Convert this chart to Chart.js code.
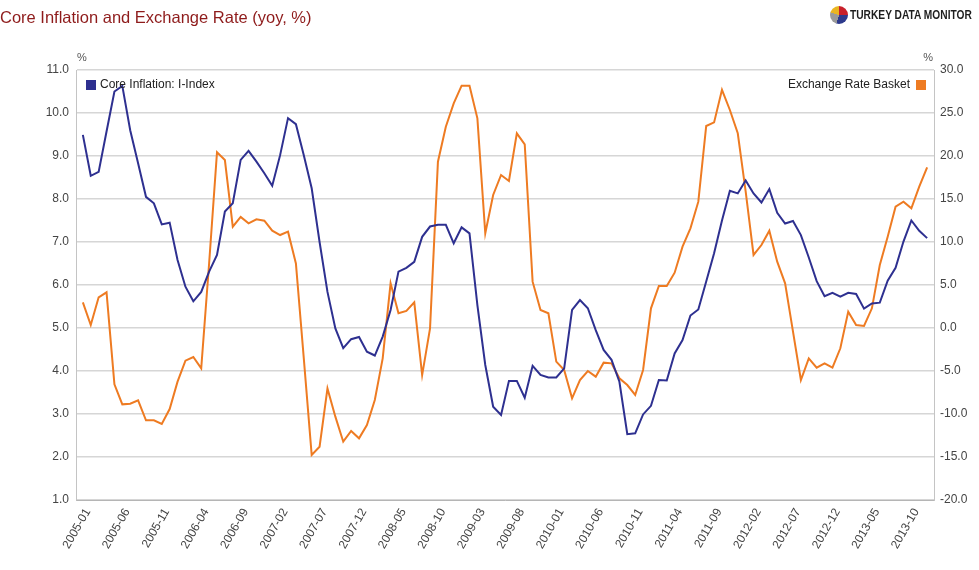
<!DOCTYPE html>
<html>
<head>
<meta charset="utf-8">
<title>Core Inflation and Exchange Rate</title>
<script src="https://cdn.jsdelivr.net/npm/chart.js@4.4.1/dist/chart.umd.min.js"></script>
<style>
  html, body { margin: 0; padding: 0; background: #fff; }
  #wrap { position: relative; width: 979px; height: 570px; overflow: hidden; }
  #chart { position: absolute; left: 0; top: 0; }
  #title { position: absolute; left: 0; top: 8px; font: 16.5px "Liberation Sans", Arial, sans-serif; color: #8e1b1b; white-space: nowrap; }
  #logo { position: absolute; left: 830px; top: 6px; height: 18px; display: flex; align-items: center; white-space: nowrap; }
  #logo .pie { width: 18px; height: 18px; border-radius: 50%; flex: none;
    background: conic-gradient(#c8202a 0 25%, #2d3a8c 25% 55%, #9a9a9a 55% 80%, #e9b521 80% 100%); }
  #logo .txt { margin-left: 2px; font: bold 12px "Liberation Sans", Arial, sans-serif; color: #1e1e1e;
    white-space: nowrap; transform: scaleX(0.85); transform-origin: left center; }
</style>
</head>
<body>
<div id="wrap">
  <canvas id="chart" width="979" height="570"></canvas>
  <div id="title">Core Inflation and Exchange Rate (yoy, %)</div>
  <div id="logo"><div class="pie"></div><div class="txt">TURKEY DATA MONITOR</div></div>
</div>
<script>
// monthly, 2005-01 .. 2013-12
const categories = [];
for (let y = 2005; y <= 2013; y++) {
  for (let m = 1; m <= 12; m++) categories.push(y + '-' + String(m).padStart(2, '0'));
}

const tickLabels = ['2005-01', '2005-06', '2005-11', '2006-04', '2006-09', '2007-02', '2007-07',
  '2007-12', '2008-05', '2008-10', '2009-03', '2009-08', '2010-01', '2010-06', '2010-11',
  '2011-04', '2011-09', '2012-02', '2012-07', '2012-12', '2013-05', '2013-10'];

// Core Inflation: I-Index (left axis)
const coreInflation = [
  9.49, 8.54, 8.63, 9.57, 10.50, 10.63, 9.60, 8.83, 8.05, 7.90,
  7.41, 7.45, 6.58, 5.96, 5.62, 5.84, 6.31, 6.70, 7.71, 7.90,
  8.91, 9.12, 8.87, 8.60, 8.31, 9.02, 9.88, 9.74, 9.02, 8.25,
  7.00, 5.84, 4.99, 4.53, 4.74, 4.79, 4.45, 4.36, 4.80, 5.42,
  6.31, 6.40, 6.54, 7.12, 7.36, 7.40, 7.40, 6.97, 7.34, 7.20,
  5.53, 4.14, 3.17, 2.98, 3.77, 3.77, 3.38, 4.12, 3.91, 3.85,
  3.85, 4.06, 5.42, 5.65, 5.46, 4.95, 4.49, 4.26, 3.75, 2.53,
  2.55, 2.99, 3.19, 3.79, 3.78, 4.41, 4.72, 5.29, 5.43, 6.08,
  6.74, 7.50, 8.19, 8.13, 8.43, 8.13, 7.92, 8.23, 7.68, 7.43,
  7.49, 7.16, 6.64, 6.09, 5.74, 5.82, 5.73, 5.82, 5.79, 5.45,
  5.57, 5.59, 6.10, 6.40, 7.01, 7.50, 7.26, 7.09
];

// Exchange Rate Basket (right axis)
const exchangeRate = [
  2.98, 0.35, 3.57, 4.15, -6.55, -8.88, -8.80, -8.41, -10.74, -10.74,
  -11.16, -9.42, -6.24, -3.80, -3.37, -4.69, 7.5, 20.43, 19.53, 11.78,
  12.91, 12.17, 12.64, 12.48, 11.32, 10.81, 11.20, 7.5, -3.53, -14.77,
  -13.80, -7.02, -10.31, -13.22, -11.98, -12.83, -11.28, -8.37, -3.53, 5.19,
  1.71, 1.98, 2.98, -5.47, -0.04, 19.34, 23.41, 26.12, 28.18, 28.18,
  24.38, 11.01, 15.47, 17.79, 17.09, 22.64, 21.36, 5.39, 2.09, 1.71,
  -3.91, -4.88, -8.18, -6.05, -5.00, -5.66, -4.03, -4.11, -5.85, -6.63,
  -7.79, -4.88, 2.29, 4.88, 4.88, 6.43, 9.46, 11.59, 14.69, 23.49,
  23.91, 27.70, 25.35, 22.64, 15.90, 8.49, 9.65, 11.32, 7.71, 5.19,
  -0.43, -6.05, -3.53, -4.61, -4.11, -4.61, -2.36, 1.90, 0.35, 0.23,
  2.29, 7.33, 10.62, 14.11, 14.69, 13.91, 16.43, 18.68
];

const FONT = '"Liberation Sans", Arial, sans-serif';
const BLUE = '#2e3090';
const ORANGE = '#ee7b22';

const toPoints = arr => arr.map((v, i) => ({ x: i, y: v }));

// legends sit inside the plot, one per corner, plus the "%" unit marks
const insideLegend = {
  id: 'insideLegend',
  afterDraw(chart) {
    const { ctx, chartArea } = chart;
    const ds = chart.data.datasets;
    const y = chartArea.top + 15;
    ctx.save();
    ctx.font = '12px ' + FONT;
    ctx.textBaseline = 'middle';

    ctx.fillStyle = ds[0].borderColor;
    ctx.fillRect(chartArea.left + 10, y - 5, 10, 10);
    ctx.fillStyle = '#222';
    ctx.textAlign = 'left';
    ctx.fillText(ds[0].label, chartArea.left + 24, y);

    ctx.fillStyle = ds[1].borderColor;
    ctx.fillRect(chartArea.right - 18, y - 5, 10, 10);
    ctx.fillStyle = '#222';
    ctx.textAlign = 'right';
    ctx.fillText(ds[1].label, chartArea.right - 24, y);

    ctx.font = '11px ' + FONT;
    ctx.fillStyle = '#555';
    ctx.textAlign = 'left';
    ctx.fillText('%', chartArea.left + 1, chartArea.top - 12);
    ctx.textAlign = 'right';
    ctx.fillText('%', chartArea.right - 1, chartArea.top - 12);
    ctx.restore();
  }
};

new Chart(document.getElementById('chart'), {
  type: 'line',
  data: {
    datasets: [
      {
        label: 'Core Inflation: I-Index',
        data: toPoints(coreInflation),
        yAxisID: 'yLeft',
        borderColor: BLUE,
        backgroundColor: BLUE,
        borderWidth: 2,
        pointRadius: 0,
        tension: 0
      },
      {
        label: 'Exchange Rate Basket',
        data: toPoints(exchangeRate),
        yAxisID: 'yRight',
        borderColor: ORANGE,
        backgroundColor: ORANGE,
        borderWidth: 2,
        pointRadius: 0,
        tension: 0
      }
    ]
  },
  options: {
    responsive: false,
    animation: false,
    layout: { padding: { top: 70, left: 0, right: 0, bottom: 0 } },
    plugins: {
      legend: { display: false },
      title: { display: false },
      tooltip: { enabled: false }
    },
    scales: {
      x: {
        type: 'linear',
        min: -0.87,
        max: 107.87,
        grid: { display: false, drawTicks: false },
        border: { display: true, color: '#b5b5b5', width: 1 },
        afterBuildTicks: axis => {
          axis.ticks = tickLabels.map(l => ({ value: categories.indexOf(l) }));
        },
        afterFit: axis => { axis.height = 70; },
        ticks: {
          autoSkip: false,
          minRotation: 60,
          maxRotation: 60,
          padding: 6,
          labelOffset: 5,
          color: '#444',
          font: { family: FONT, size: 12 },
          callback: v => categories[v]
        }
      },
      yLeft: {
        type: 'linear',
        position: 'left',
        min: 1,
        max: 11,
        afterFit: axis => { axis.width = 76; },
        grid: { color: '#d6d6d6', lineWidth: 1.5, drawTicks: false },
        border: { color: '#c4c4c4', width: 1 },
        ticks: {
          stepSize: 1,
          padding: 7,
          color: '#444',
          font: { family: FONT, size: 12 },
          callback: v => v.toFixed(1)
        }
      },
      yRight: {
        type: 'linear',
        position: 'right',
        min: -20,
        max: 30,
        afterFit: axis => { axis.width = 45; },
        grid: { drawOnChartArea: false, drawTicks: false },
        border: { color: '#c4c4c4', width: 1 },
        ticks: {
          stepSize: 5,
          padding: 6,
          color: '#444',
          font: { family: FONT, size: 12 },
          callback: v => v.toFixed(1)
        }
      }
    }
  },
  plugins: [insideLegend]
});
</script>
</body>
</html>
